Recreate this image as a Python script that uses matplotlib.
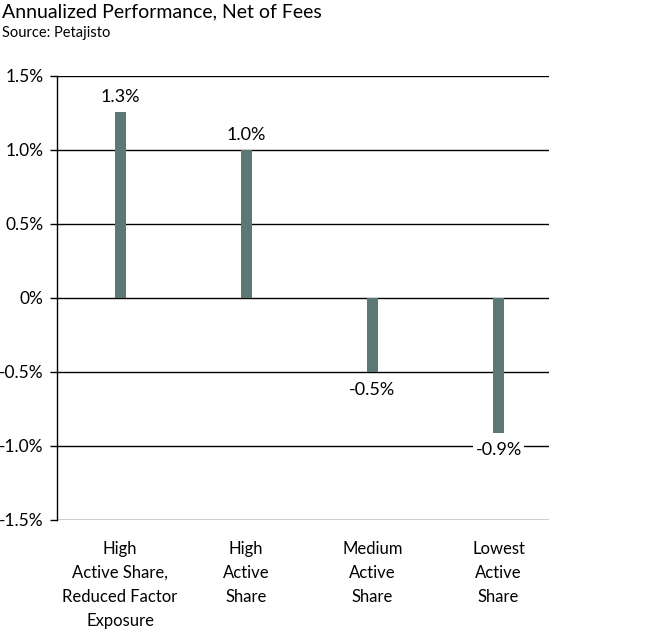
import matplotlib
matplotlib.use("Agg")
import matplotlib.pyplot as plt

categories = ["High\nActive Share,\nReduced Factor\nExposure", "High\nActive\nShare",
              "Medium\nActive\nShare", "Lowest\nActive\nShare"]
values = [1.26, 1.0, -0.5, -0.91]
value_labels = ["1.3%", "1.0%", "-0.5%", "-0.9%"]
yticks = [-1.5, -1.0, -0.5, 0, 0.5, 1.0, 1.5]
ytick_labels = ["-1.5%", "-1.0%", "-0.5%", "0%", "0.5%", "1.0%", "1.5%"]

plt.rcParams['font.family'] = ['Lato', 'DejaVu Sans']

fig = plt.figure(figsize=(6.63, 6.35), dpi=100)
ax = fig.add_axes([57/663, 1-520/635, (549-57)/663, (520-76)/635])

x = list(range(len(categories)))
ax.bar(x, values, width=0.088, color="#5b7877", zorder=3)
ax.set_xlim(-0.5, 3.4)
ax.set_ylim(-1.5, 1.5)
ax.set_yticks(yticks)
ax.set_yticklabels(ytick_labels, fontsize=12.5)
ax.yaxis.grid(True, color="black", linewidth=1, zorder=1)
ax.tick_params(axis='y', length=5, width=1, color="black", pad=4.5)
ax.set_xticks(x)
ax.set_xticklabels(categories, fontsize=12, linespacing=1.62, va="top")
ax.tick_params(axis='x', length=0, pad=15)
for s in ["top", "right", "bottom"]:
    ax.spines[s].set_visible(False)
ax.spines["left"].set_linewidth(1)

for xi, v, lab in zip(x, values, value_labels):
    if v >= 0:
        ax.annotate(lab, (xi, v), xytext=(0, 5), textcoords="offset points",
                    ha="center", va="bottom", fontsize=13, zorder=4)
    else:
        ax.annotate(lab, (xi, v), xytext=(0, -7), textcoords="offset points",
                    ha="center", va="top", fontsize=13, zorder=4,
                    bbox=dict(facecolor="white", edgecolor="none", pad=2))

fig.text(2/663, 1-12/635, "Annualized Performance, Net of Fees", fontsize=14,
         ha="left", va="center")
fig.text(2/663, 1-33/635, "Source: Petajisto", fontsize=10.5, ha="left", va="center")

fig.savefig("out.png", dpi=100)
